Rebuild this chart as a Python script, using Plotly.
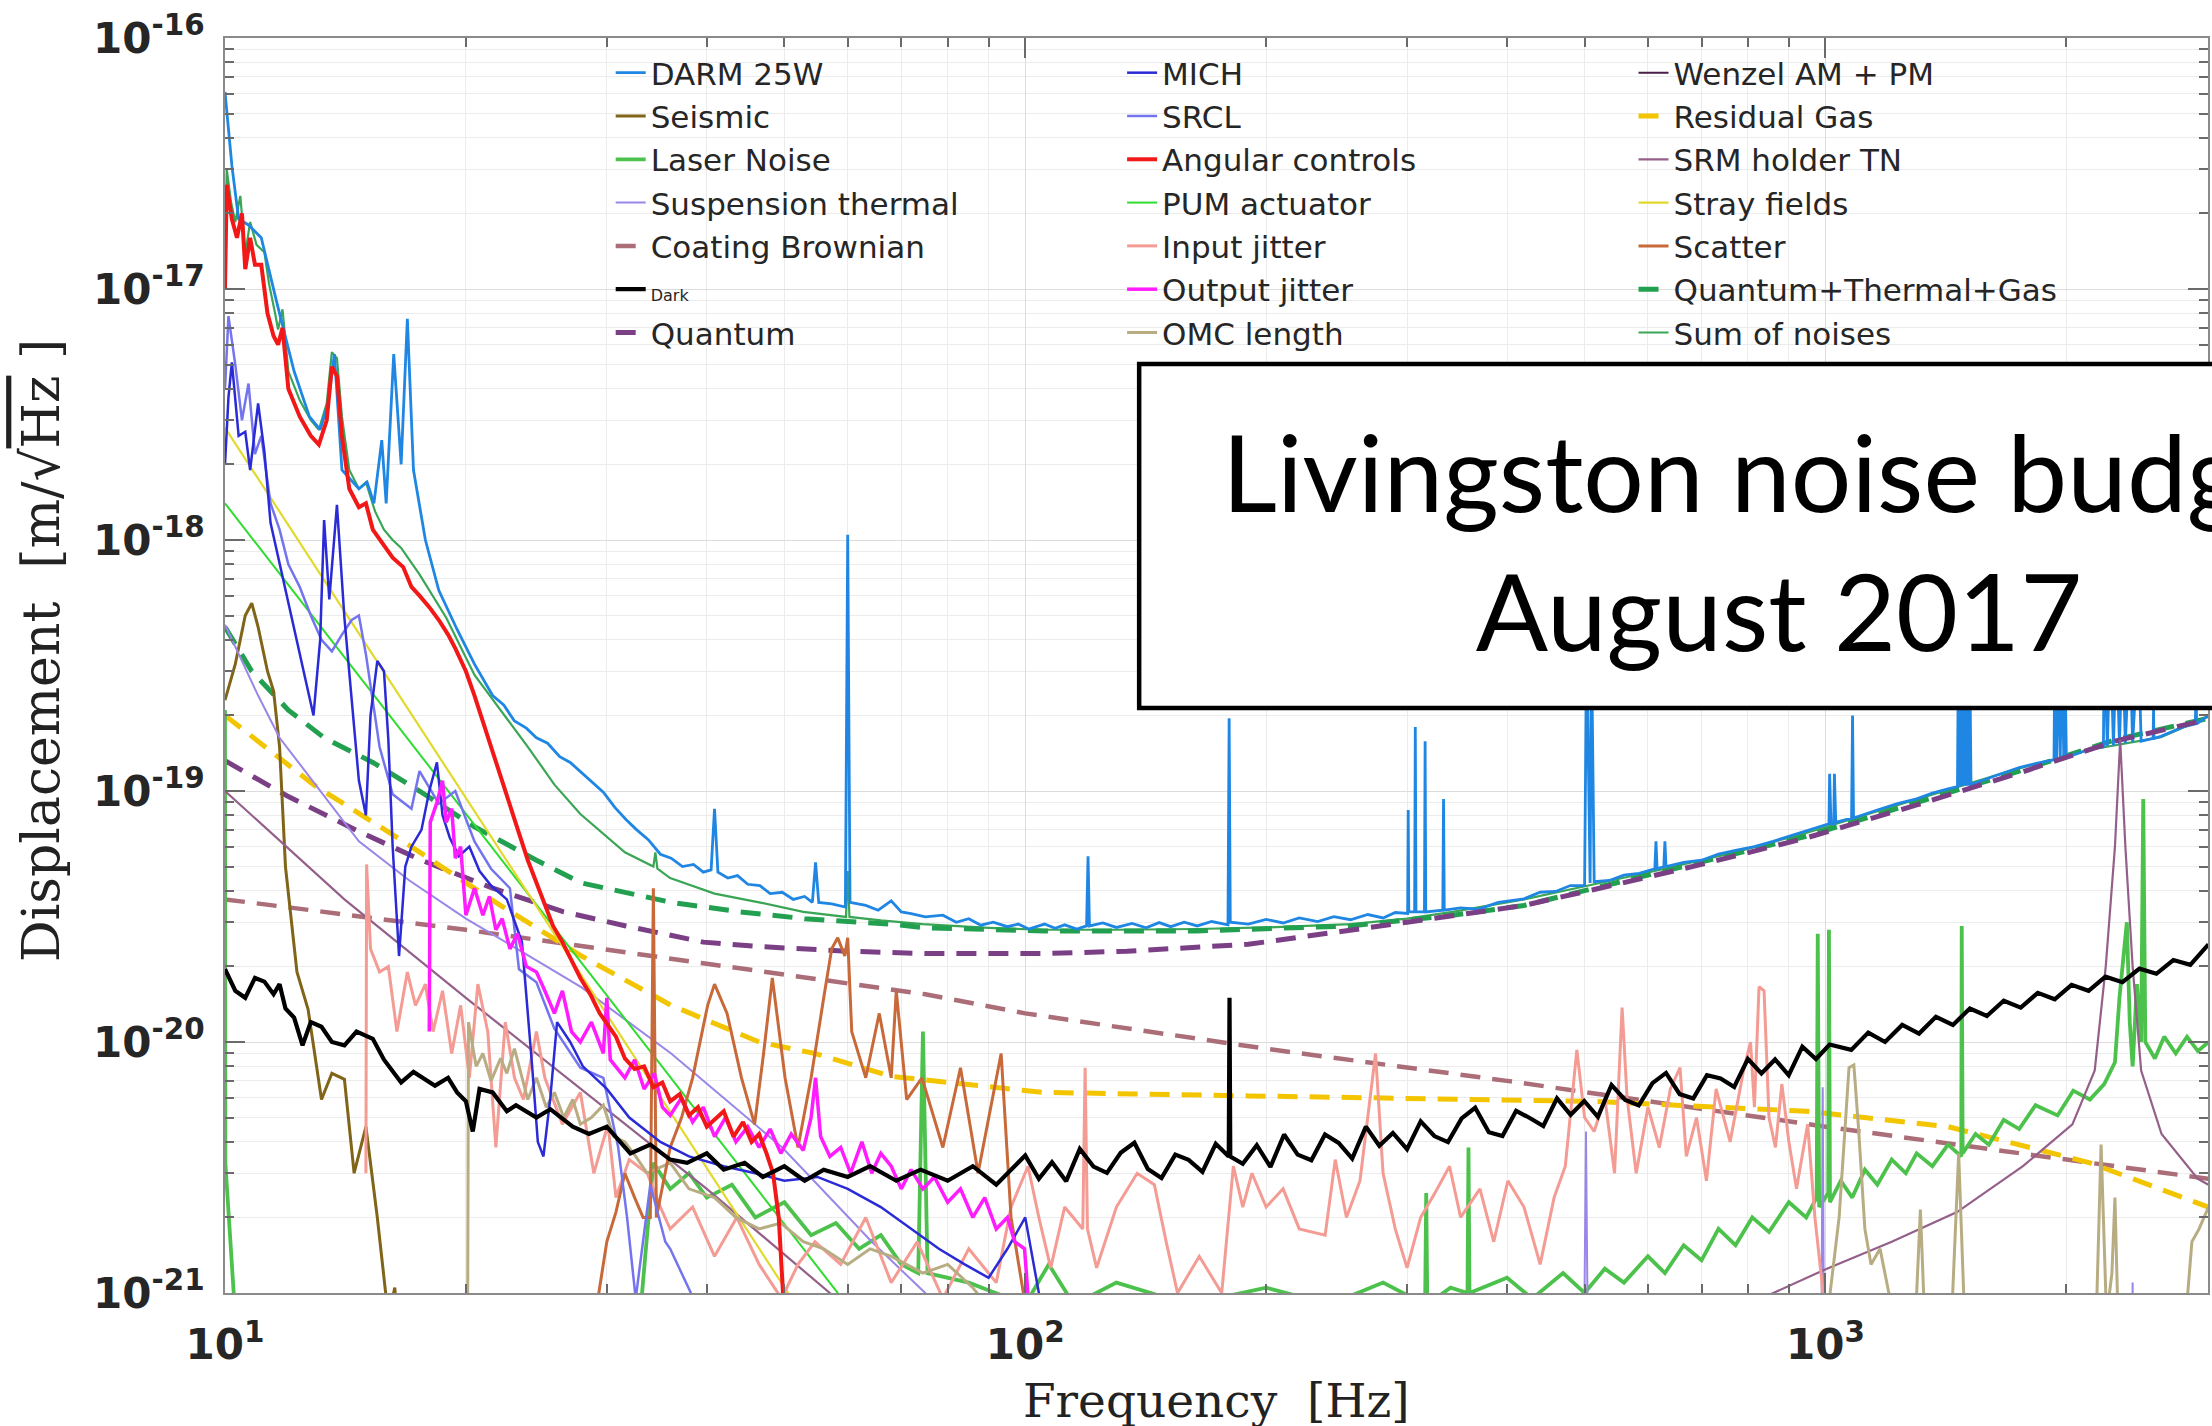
import plotly.graph_objects as go

# ---------------- amplitude spectral densities (Hz, m/sqrt(Hz)) ----------------
DARM_25W = [(10.0, 6.1e-17), (10.2, 3.1e-17), (10.4, 1.9e-17), (10.7, 1.8e-17), (11.1, 1.6e-17), (11.6, 8.9e-18),
            (12.2, 4.7e-18), (12.75, 3.1e-18), (13.15, 2.75e-18), (13.45, 3.5e-18), (13.7, 5.5e-18), (14.0, 1.9e-18),
            (14.7, 1.6e-18), (15.05, 1.7e-18), (15.35, 1.4e-18), (15.7, 2.5e-18), (15.9, 1.4e-18), (16.25, 5.5e-18),
            (16.6, 2.0e-18), (16.9, 7.6e-18), (17.2, 1.9e-18), (17.8, 1.0e-18), (18.5, 6.3e-19), (19.5, 4.4e-19),
            (20.5, 3.2e-19), (21.6, 2.4e-19), (22.3, 2.2e-19), (23.0, 1.9e-19), (23.8, 1.78e-19), (24.5, 1.63e-19),
            (25.3, 1.55e-19), (26.2, 1.37e-19), (27.0, 1.3e-19), (27.9, 1.18e-19), (28.8, 1.08e-19), (29.7, 9.9e-20),
            (30.7, 8.6e-20), (31.7, 7.7e-20), (32.7, 7.0e-20), (33.8, 6.4e-20), (35.0, 5.6e-20), (36.1, 5.4e-20),
            (37.3, 5.0e-20), (38.5, 5.1e-20), (39.6, 4.75e-20), (40.5, 4.85e-20), (40.9, 8.5e-20), (41.3, 4.75e-20),
            (42.5, 4.5e-20), (43.7, 4.6e-20), (45.0, 4.25e-20), (46.6, 4.2e-20), (48.0, 3.9e-20), (49.7, 3.95e-20),
            (51.3, 3.7e-20), (53.0, 3.8e-20), (54.2, 3.6e-20), (54.7, 5.2e-20), (55.2, 3.6e-20), (57.3, 3.55e-20),
            (59.6, 3.45e-20), (60.0, 1.05e-18), (60.4, 3.6e-20), (63.2, 3.5e-20), (65.5, 3.35e-20), (68.0, 3.65e-20),
            (70.0, 3.3e-20), (72.0, 3.25e-20), (75.0, 3.15e-20), (78.9, 3.2e-20), (82.0, 3.0e-20), (85.0, 3.1e-20),
            (88.0, 2.92e-20), (91.2, 3.0e-20), (95.0, 2.88e-20), (98.0, 2.95e-20), (101.0, 2.82e-20),
            (105.7, 2.95e-20), (109.0, 2.84e-20), (112.0, 2.93e-20), (116.0, 2.82e-20), (119.3, 2.9e-20),
            (119.8, 5.5e-20), (120.3, 2.9e-20), (125.0, 2.98e-20), (130.0, 2.86e-20), (136.0, 2.97e-20),
            (141.6, 2.85e-20), (147.0, 2.99e-20), (152.0, 2.88e-20), (158.0, 3.0e-20), (164.0, 2.9e-20),
            (171.0, 3.02e-20), (179.2, 2.93e-20), (179.8, 1.95e-19), (180.4, 3.0e-20), (190.0, 2.95e-20),
            (200.0, 3.08e-20), (210.0, 2.98e-20), (220.0, 3.12e-20), (232.0, 3.02e-20), (243.0, 3.16e-20),
            (255.0, 3.07e-20), (268.0, 3.22e-20), (280.0, 3.12e-20), (290.0, 3.28e-20), (300.5, 3.25e-20),
            (301.0, 8.4e-20), (301.5, 3.3e-20), (306.6, 3.3e-20), (307.2, 1.8e-19), (307.8, 3.3e-20),
            (315.4, 3.3e-20), (316.0, 1.58e-19), (316.6, 3.3e-20), (332.5, 3.35e-20), (333.2, 9.3e-20),
            (333.9, 3.35e-20), (350.0, 3.42e-20), (368.0, 3.38e-20), (390.0, 3.6e-20), (420.0, 3.72e-20),
            (440.0, 3.95e-20), (460.0, 3.98e-20), (480.0, 4.2e-20), (500.0, 4.2e-20), (503.0, 4e-19),
            (508.0, 4.3e-20), (510.0, 4e-19), (514.0, 4.35e-20), (537.0, 4.4e-20), (560.0, 4.62e-20),
            (585.0, 4.7e-20), (612.0, 4.9e-20), (614.0, 6.3e-20), (616.0, 4.9e-20), (628.0, 5.0e-20),
            (630.0, 6.3e-20), (632.0, 5.0e-20), (665.0, 5.2e-20), (700.0, 5.3e-20), (735.0, 5.6e-20),
            (772.0, 5.8e-20), (815.0, 6.0e-20), (860.0, 6.3e-20), (900.0, 6.6e-20), (946.0, 6.9e-20),
            (1010.0, 7.4e-20), (1012.0, 1.17e-19), (1016.0, 7.4e-20), (1024.0, 7.4e-20), (1026.0, 1.17e-19),
            (1030.0, 7.5e-20), (1078.0, 7.8e-20), (1081.0, 2.0e-19), (1084.0, 7.8e-20), (1161.0, 8.4e-20),
            (1230.0, 8.9e-20), (1300.0, 9.3e-20), (1360.0, 9.8e-20), (1423.0, 1.02e-19), (1462.0, 1.04e-19),
            (1466.0, 4e-19), (1472.0, 1.04e-19), (1478.0, 4e-19), (1484.0, 1.05e-19), (1490.0, 4e-19),
            (1496.0, 1.05e-19), (1502.0, 4e-19), (1508.0, 1.05e-19), (1514.0, 4e-19), (1520.0, 1.06e-19),
            (1630.0, 1.15e-19), (1746.0, 1.24e-19), (1840.0, 1.29e-19), (1930.0, 1.33e-19), (1935.0, 4e-19),
            (1945.0, 1.34e-19), (1955.0, 4e-19), (1965.0, 1.34e-19), (1975.0, 4e-19), (1985.0, 1.35e-19),
            (1990.0, 4e-19), (2000.0, 1.36e-19), (2140.0, 1.47e-19), (2225.0, 1.5e-19), (2230.0, 4e-19),
            (2250.0, 1.51e-19), (2270.0, 4e-19), (2290.0, 1.52e-19), (2310.0, 4e-19), (2330.0, 1.53e-19),
            (2350.0, 4e-19), (2370.0, 1.55e-19), (2400.0, 4e-19), (2420.0, 1.56e-19), (2460.0, 4e-19),
            (2480.0, 1.58e-19), (2567.0, 1.62e-19), (2570.0, 2.1e-19), (2573.0, 1.62e-19), (2625.0, 1.65e-19),
            (2800.0, 1.8e-19), (2898.0, 1.85e-19), (2904.0, 2.4e-19), (2910.0, 1.85e-19), (3010.0, 2.0e-19)]

SEISMIC = [(10.0, 2.3e-19), (10.3, 3.2e-19), (10.6, 5.0e-19), (10.8, 5.6e-19), (11.0, 4.5e-19), (11.3, 3.0e-19),
           (11.5, 2.5e-19), (11.7, 1.5e-19), (11.9, 5.0e-20), (12.3, 1.9e-20), (12.7, 1.35e-20), (13.2, 5.9e-21),
           (13.6, 7.5e-21), (14.1, 7.1e-21), (14.5, 3.0e-21), (15.0, 4.6e-21), (15.5, 2.0e-21), (16.0, 8e-22),
           (16.3, 1.05e-21), (16.6, 5e-22)]

LASER_NOISE = [(10.0, 2.1e-19), (10.01, 3.3e-21), (10.3, 8e-22), (None, None),
               (33.0, 8e-22), (34.3, 3.3e-21), (36.0, 2.6e-21), (38.0, 3.0e-21), (40.0, 2.4e-21), (43.0, 2.7e-21),
               (46.0, 2.0e-21), (50.0, 2.3e-21), (54.0, 1.7e-21), (58.0, 1.9e-21), (62.0, 1.5e-21), (66.0, 1.7e-21),
               (70.0, 1.3e-21), (73.5, 1.2e-21), (74.5, 1.1e-20), (75.5, 1.2e-21), (85.0, 1.1e-21), (100.0, 9e-22),
               (107.0, 1.3e-21), (115.0, 9e-22), (130.0, 1.1e-21), (160.0, 9e-22), (200.0, 1.05e-21), (240.0, 9e-22),
               (280.0, 1.1e-21), (316.0, 9e-22), (317.0, 2.5e-21), (318.0, 9e-22), (340.0, 1.05e-21),
               (357.0, 1.0e-21), (358.0, 3.8e-21), (359.0, 1.0e-21), (400.0, 1.15e-21), (430.0, 9.5e-22),
               (470.0, 1.2e-21), (500.0, 1.0e-21), (530.0, 1.25e-21), (560.0, 1.1e-21), (600.0, 1.4e-21),
               (630.0, 1.2e-21), (665.0, 1.55e-21), (700.0, 1.35e-21), (735.0, 1.8e-21), (772.0, 1.55e-21),
               (810.0, 2.0e-21), (850.0, 1.75e-21), (900.0, 2.3e-21), (946.0, 2.0e-21), (975.0, 2.4e-21),
               (978.0, 2.7e-20), (982.0, 2.2e-21), (1008.0, 2.5e-21), (1010.0, 2.8e-20), (1013.0, 2.3e-21),
               (1045.0, 2.8e-21), (1080.0, 2.4e-21), (1120.0, 3.1e-21), (1161.0, 2.7e-21), (1210.0, 3.4e-21),
               (1260.0, 3.0e-21), (1300.0, 3.6e-21), (1360.0, 3.2e-21), (1423.0, 3.9e-21), (1478.0, 3.5e-21),
               (1480.0, 2.9e-20), (1484.0, 3.6e-21), (1540.0, 4.3e-21), (1600.0, 3.9e-21), (1670.0, 4.9e-21),
               (1746.0, 4.5e-21), (1830.0, 5.6e-21), (1950.0, 5.1e-21), (2040.0, 6.4e-21), (2140.0, 5.9e-21),
               (2230.0, 6.8e-21), (2300.0, 8.3e-21), (2330.0, 1.5e-20), (2350.0, 2.0e-20), (2380.0, 3.0e-20),
               (2400.0, 1.2e-20), (2420.0, 8.0e-21), (2450.0, 1.7e-20), (2480.0, 1.0e-20), (2495.0, 9.3e-20),
               (2510.0, 1.0e-20), (2580.0, 8.6e-21), (2650.0, 1.05e-20), (2740.0, 9.0e-21), (2830.0, 1.05e-20),
               (2920.0, 9.2e-21), (3010.0, 1.0e-20)]

SUSPENSION_THERMAL = [(10.0, 4.6e-19), (11.0, 2.4e-19), (11.7, 1.63e-19), (13.0, 1.05e-19), (14.7, 6.3e-20),
                      (17.0, 4.4e-20), (20.0, 3.1e-20), (24.0, 2.2e-20), (27.9, 1.65e-20), (36.1, 9.0e-21),
                      (49.7, 3.8e-21), (64.3, 1.6e-21), (75.0, 1.0e-21), (85.0, 7e-22), (None, None),
                      (499.0, 5e-22), (502.0, 4.4e-21), (505.0, 5e-22), (None, None),
                      (988.0, 5e-22), (992.0, 6.6e-21), (996.0, 5e-22), (None, None),
                      (2416.0, 5e-22), (2420.0, 1.1e-21), (2424.0, 5e-22)]

COATING_BROWNIAN = [(10.0, 3.7e-20), (20.0, 2.8e-20), (40.0, 2.05e-20), (75.0, 1.55e-20), (100.0, 1.3e-20),
                    (200.0, 9.4e-21), (400.0, 7.0e-21), (1000.0, 4.6e-21), (2000.0, 3.4e-21), (3010.0, 2.85e-21)]

DARK = [(10.0, 1.95e-20), (10.3, 1.6e-20), (10.6, 1.5e-20), (10.9, 1.8e-20), (11.2, 1.74e-20), (11.5, 1.55e-20),
        (11.7, 1.7e-20), (11.9, 1.36e-20), (12.2, 1.25e-20), (12.5, 9.7e-21), (12.8, 1.2e-20), (13.2, 1.15e-20),
        (13.6, 1.0e-20), (14.1, 9.7e-21), (14.6, 1.1e-20), (15.3, 1.03e-20), (15.8, 8.5e-21), (16.6, 6.9e-21),
        (17.2, 7.6e-21), (18.3, 6.7e-21), (19.0, 7.2e-21), (19.5, 6.3e-21), (20.0, 5.8e-21), (20.4, 4.4e-21),
        (20.8, 6.5e-21), (21.6, 6.3e-21), (22.5, 5.3e-21), (23.1, 5.6e-21), (24.5, 5.0e-21), (25.5, 5.4e-21),
        (27.2, 4.6e-21), (28.5, 4.3e-21), (30.0, 4.6e-21), (32.1, 3.6e-21), (34.0, 3.9e-21), (36.0, 3.4e-21),
        (37.8, 3.3e-21), (40.0, 3.6e-21), (42.0, 3.1e-21), (44.6, 3.3e-21), (47.0, 2.9e-21), (50.0, 3.2e-21),
        (53.0, 2.8e-21), (56.0, 3.1e-21), (60.0, 2.9e-21), (64.0, 3.2e-21), (69.0, 2.8e-21), (74.0, 3.1e-21),
        (80.0, 2.8e-21), (86.0, 3.2e-21), (92.0, 2.7e-21), (100.0, 3.53e-21), (104.0, 2.85e-21), (108.0, 3.32e-21),
        (112.5, 2.79e-21), (117.0, 3.75e-21), (121.7, 3.19e-21), (126.5, 3.01e-21), (131.6, 3.62e-21),
        (136.9, 3.97e-21), (142.3, 3.12e-21), (148.0, 2.87e-21), (154.0, 3.56e-21), (160.0, 3.39e-21),
        (166.5, 3.04e-21), (173.0, 3.93e-21), (179.6, 3.5e-21), (180.0, 1.5e-20), (180.4, 3.5e-21),
        (187.0, 3.27e-21), (194.7, 3.88e-21), (202.5, 3.18e-21), (210.6, 4.28e-21), (219.0, 3.56e-21),
        (227.8, 3.38e-21), (236.9, 4.28e-21), (246.4, 3.96e-21), (256.2, 3.43e-21), (266.5, 4.6e-21),
        (277.0, 3.86e-21), (288.0, 4.34e-21), (300.0, 3.74e-21), (312.0, 4.83e-21), (324.5, 4.22e-21),
        (337.5, 3.99e-21), (351.0, 4.96e-21), (365.0, 5.47e-21), (379.6, 4.37e-21), (394.8, 4.22e-21),
        (410.6, 5.32e-21), (427.0, 4.98e-21), (444.0, 4.63e-21), (461.8, 5.96e-21), (480.3, 5.13e-21),
        (499.5, 5.82e-21), (519.5, 5.03e-21), (540.3, 6.74e-21), (562.0, 5.88e-21), (584.4, 5.59e-21),
        (607.8, 6.86e-21), (632.0, 7.53e-21), (657.3, 6.2e-21), (683.6, 5.96e-21), (711.0, 7.37e-21),
        (739.4, 7.15e-21), (769.0, 6.62e-21), (799.8, 8.57e-21), (831.7, 7.49e-21), (865.0, 8.52e-21),
        (899.6, 7.38e-21), (935.6, 9.58e-21), (973.0, 8.56e-21), (1012.0, 9.77e-21), (1077.0, 9.3e-21),
        (1131.0, 1.09e-20), (1187.0, 1.0e-20), (1247.0, 1.17e-20), (1309.0, 1.08e-20), (1374.0, 1.26e-20),
        (1443.0, 1.17e-20), (1515.0, 1.36e-20), (1591.0, 1.27e-20), (1670.0, 1.46e-20), (1754.0, 1.37e-20),
        (1842.0, 1.57e-20), (1934.0, 1.48e-20), (2030.0, 1.69e-20), (2132.0, 1.6e-20), (2238.0, 1.82e-20),
        (2350.0, 1.73e-20), (2468.0, 1.96e-20), (2591.0, 1.87e-20), (2721.0, 2.12e-20), (2857.0, 2.03e-20),
        (3010.0, 2.45e-20)]

QUANTUM = [(10.0, 1.32e-19), (12.0, 9.5e-20), (14.7, 6.9e-20), (17.6, 5.3e-20), (21.6, 4.1e-20), (26.5, 3.3e-20),
           (31.7, 2.9e-20), (39.6, 2.5e-20), (46.5, 2.4e-20), (60.0, 2.3e-20), (75.0, 2.25e-20), (105.0, 2.25e-20),
           (134.0, 2.3e-20), (190.0, 2.45e-20), (300.0, 3.0e-20), (420.0, 3.5e-20), (514.0, 4.05e-20),
           (700.0, 5.1e-20), (946.0, 6.5e-20), (1300.0, 8.8e-20), (1746.0, 1.18e-19), (2300.0, 1.58e-19),
           (3010.0, 1.93e-19)]

MICH = [(10.0, 2.0e-18), (10.1, 3.7e-18), (10.2, 5.1e-18), (10.4, 2.6e-18), (10.6, 2.7e-18), (10.75, 1.9e-18),
        (11.0, 3.5e-18), (11.2, 2.25e-18), (11.4, 1.17e-18), (11.8, 7.2e-19), (12.2, 4.5e-19), (12.6, 2.8e-19),
        (12.9, 2.0e-19), (13.15, 4.0e-19), (13.3, 1.2e-18), (13.5, 5.8e-19), (13.8, 1.38e-18), (14.1, 4.9e-19),
        (14.4, 2.3e-19), (14.7, 1.1e-19), (15.0, 8e-20), (15.2, 2.0e-19), (15.5, 3.3e-19), (15.8, 3.0e-19),
        (16.0, 1.6e-19), (16.2, 6e-20), (16.5, 2.2e-20), (16.8, 5e-20), (17.1, 6e-20), (17.6, 7e-20),
        (18.0, 1.0e-19), (18.4, 1.3e-19), (18.7, 8e-20), (19.1, 6.5e-20), (19.6, 5.5e-20), (20.2, 6e-20),
        (20.8, 4.8e-20), (21.5, 4.2e-20), (22.5, 3.7e-20), (23.5, 2.5e-20), (24.2, 8e-21), (24.6, 4e-21),
        (25.0, 3.5e-21), (25.5, 6e-21), (26.0, 1.2e-20), (27.0, 1.0e-20), (28.0, 8e-21), (30.0, 6.5e-21),
        (32.0, 5e-21), (35.0, 4.0e-21), (38.0, 3.5e-21), (42.0, 3.2e-21), (46.0, 3.0e-21), (50.0, 2.8e-21),
        (55.0, 2.9e-21), (60.0, 2.6e-21), (66.0, 2.2e-21), (72.0, 1.8e-21), (78.0, 1.5e-21), (84.0, 1.3e-21),
        (90.0, 1.15e-21), (95.0, 1.5e-21), (100.0, 2.0e-21), (104.0, 1.0e-21), (106.0, 7e-22)]

SRCL = [(10.0, 4.0e-18), (10.1, 7.8e-18), (10.3, 5.0e-18), (10.5, 3.0e-18), (10.7, 4.2e-18), (10.9, 2.2e-18),
        (11.1, 2.6e-18), (11.4, 1.4e-18), (11.7, 1.1e-18), (12.0, 8e-19), (12.4, 6.5e-19), (12.8, 5.0e-19),
        (13.2, 4.0e-19), (13.6, 3.6e-19), (14.0, 4.2e-19), (14.4, 4.8e-19), (14.7, 5.0e-19), (15.0, 3.5e-19),
        (15.6, 1.5e-19), (16.2, 9.7e-20), (17.1, 8.5e-20), (17.5, 1.2e-19), (18.5, 8.9e-20), (19.4, 1.0e-19),
        (20.5, 6.3e-20), (21.5, 4.9e-20), (22.7, 4.1e-20), (23.3, 1.95e-20), (24.5, 1.73e-20), (25.8, 1.13e-20),
        (27.8, 7.9e-21), (29.7, 7.2e-21), (31.0, 3.8e-21), (31.8, 2.0e-21), (32.6, 9.5e-22), (34.0, 2.7e-21),
        (35.5, 1.6e-21), (36.0, 1.5e-21), (38.5, 9.5e-22)]

ANGULAR_CONTROLS = [(10.0, 1.0e-17), (10.05, 2.6e-17), (10.2, 1.9e-17), (10.35, 1.6e-17), (10.5, 2.0e-17),
                    (10.6, 1.2e-17), (10.75, 1.6e-17), (10.9, 1.25e-17), (11.1, 1.25e-17), (11.3, 8.0e-18),
                    (11.5, 6.5e-18), (11.65, 6.0e-18), (11.8, 7.0e-18), (12.0, 4.0e-18), (12.4, 3.1e-18),
                    (12.8, 2.6e-18), (13.1, 2.4e-18), (13.4, 3.0e-18), (13.6, 4.9e-18), (13.8, 4.5e-18),
                    (14.0, 2.6e-18), (14.3, 1.6e-18), (14.7, 1.35e-18), (15.0, 1.4e-18), (15.3, 1.1e-18),
                    (15.8, 9.5e-19), (16.2, 8.5e-19), (16.7, 7.8e-19), (17.1, 6.5e-19), (17.5, 6.0e-19),
                    (18.0, 5.4e-19), (18.5, 4.8e-19), (19.0, 4.2e-19), (19.4, 3.7e-19), (20.0, 3.0e-19),
                    (20.5, 2.4e-19), (21.0, 1.9e-19), (21.5, 1.5e-19), (22.1, 1.15e-19), (22.7, 9.0e-20),
                    (23.3, 6.8e-20), (23.9, 5.3e-20), (24.5, 4.3e-20), (25.1, 3.5e-20), (25.7, 2.9e-20),
                    (26.4, 2.5e-20), (27.1, 2.1e-20), (27.8, 1.8e-20), (28.6, 1.55e-20), (29.4, 1.3e-20),
                    (30.8, 1.05e-20), (31.6, 8.6e-21), (32.5, 7.8e-21), (33.4, 8.0e-21), (34.3, 6.6e-21),
                    (35.2, 6.9e-21), (36.0, 5.8e-21), (37.0, 6.2e-21), (38.0, 5.1e-21), (39.0, 5.5e-21),
                    (40.0, 4.6e-21), (40.9, 4.9e-21), (42.0, 5.3e-21), (43.2, 4.2e-21), (44.4, 4.8e-21),
                    (45.5, 4.0e-21), (46.5, 4.3e-21), (47.5, 3.6e-21), (48.4, 3.0e-21), (49.2, 2.0e-21),
                    (49.9, 9e-22)]

PUM_ACTUATOR = [(10.0, 1.4e-18), (65.0, 6.4e-22)]

INPUT_JITTER = [(15.0, 3.0e-21), (15.03, 5.1e-20), (15.2, 2.35e-20), (15.6, 1.9e-20), (16.0, 2.0e-20), (16.4, 1.1e-20),
                (16.9, 1.9e-20), (17.3, 1.4e-20), (17.8, 1.7e-20), (18.2, 1.1e-20), (18.7, 1.6e-20), (19.2, 9e-21),
                (19.7, 1.4e-20), (20.2, 7.2e-21), (20.7, 1.7e-20), (21.3, 1.1e-20), (21.8, 3.8e-21), (22.4, 1.2e-20),
                (23.0, 7.2e-21), (23.6, 5.9e-21), (24.5, 1.1e-20), (25.1, 7.2e-21), (26.4, 4.7e-21), (27.8, 6.3e-21),
                (28.9, 3.0e-21), (30.1, 4.7e-21), (30.8, 2.4e-21), (32.0, 3.4e-21), (33.7, 3.0e-21), (35.0, 2.2e-21),
                (36.0, 1.8e-21), (38.4, 2.2e-21), (40.9, 1.4e-21), (43.6, 2.0e-21), (46.5, 1.3e-21), (49.6, 9.5e-22),
                (52.0, 1.3e-21), (54.6, 1.6e-21), (58.8, 1.3e-21), (63.2, 2.0e-21), (68.0, 1.1e-21), (73.3, 1.6e-21),
                (78.9, 9.5e-22), (85.0, 1.5e-21), (92.0, 1.1e-21), (96.0, 2.2e-21), (100.8, 3.2e-21), (104.0, 2.0e-21),
                (107.6, 1.26e-21), (112.0, 2.2e-21), (118.0, 1.8e-21), (118.8, 7.9e-21), (119.6, 1.8e-21),
                (122.8, 1.26e-21), (130.0, 2.2e-21), (138.0, 3.0e-21), (145.0, 2.7e-21), (150.0, 1.6e-21),
                (155.0, 1.0e-21), (165.0, 1.4e-21), (176.0, 1.0e-21), (182.0, 3.2e-21), (187.0, 2.2e-21),
                (192.0, 3.0e-21), (200.0, 2.2e-21), (210.0, 2.6e-21), (220.0, 1.8e-21), (237.0, 1.7e-21),
                (244.0, 3.4e-21), (252.0, 2.0e-21), (262.0, 2.8e-21), (274.0, 9.0e-21), (280.0, 3.0e-21),
                (290.0, 1.8e-21), (300.0, 1.26e-21), (312.0, 2.0e-21), (325.0, 2.5e-21), (339.0, 3.2e-21),
                (350.0, 2.0e-21), (370.0, 2.6e-21), (385.0, 1.6e-21), (401.0, 2.8e-21), (420.0, 2.2e-21),
                (440.0, 1.3e-21), (458.0, 2.4e-21), (473.0, 3.2e-21), (489.0, 9.3e-21), (500.0, 5.0e-21),
                (514.0, 4.4e-21), (530.0, 6.0e-21), (545.0, 3.0e-21), (554.0, 1.05e-20), (557.0, 1.37e-20),
                (565.0, 6.0e-21), (580.0, 3.0e-21), (600.0, 5.5e-21), (620.0, 3.8e-21), (640.0, 6.5e-21),
                (658.0, 7.9e-21), (670.0, 3.5e-21), (690.0, 5.0e-21), (710.0, 2.8e-21), (730.0, 6.5e-21),
                (760.0, 4.0e-21), (790.0, 7.7e-21), (806.0, 1.0e-20), (815.0, 5.5e-21), (826.0, 1.66e-20),
                (838.0, 1.6e-20), (850.0, 5.0e-21), (866.0, 3.8e-21), (882.0, 6.8e-21), (900.0, 4.0e-21),
                (920.0, 2.6e-21), (950.0, 4.7e-21), (970.0, 2.0e-21), (990.0, 1.1e-21), (1000.0, 7e-22)]

OUTPUT_JITTER = [(18.0, 1.1e-20), (18.05, 7.5e-20), (18.4, 9e-20), (18.7, 1.1e-19), (18.9, 7.5e-20), (19.2, 8.5e-20),
                 (19.4, 5.4e-20), (19.7, 6.0e-20), (20.0, 3.2e-20), (20.5, 4.1e-20), (21.0, 3.2e-20), (21.4, 3.8e-20),
                 (21.8, 2.8e-20), (22.2, 3.1e-20), (22.7, 2.35e-20), (23.2, 2.7e-20), (23.8, 2.0e-20), (24.5, 1.9e-20),
                 (25.1, 1.6e-20), (25.8, 1.3e-20), (26.4, 1.6e-20), (27.1, 1.1e-20), (27.8, 1.0e-20), (28.7, 1.2e-20),
                 (29.7, 9e-21), (30.0, 1.5e-20), (30.3, 8.5e-21), (31.6, 7.2e-21), (32.5, 8.5e-21), (33.4, 6.5e-21),
                 (34.4, 7.5e-21), (35.2, 5.5e-21), (36.0, 5.1e-21), (37.2, 6.0e-21), (38.4, 4.8e-21), (39.6, 5.5e-21),
                 (40.9, 4.2e-21), (42.2, 5.0e-21), (43.5, 4.0e-21), (45.0, 4.6e-21), (46.5, 3.8e-21), (48.0, 4.5e-21),
                 (49.5, 3.6e-21), (51.0, 4.3e-21), (52.8, 3.7e-21), (54.0, 5.0e-21), (54.7, 7.2e-21), (55.5, 4.2e-21),
                 (57.0, 3.5e-21), (58.8, 3.8e-21), (60.5, 3.0e-21), (62.5, 4.0e-21), (64.3, 3.0e-21), (66.0, 3.6e-21),
                 (68.0, 3.2e-21), (70.0, 2.6e-21), (72.0, 3.1e-21), (74.5, 2.6e-21), (77.0, 2.9e-21), (80.0, 2.3e-21),
                 (83.0, 2.6e-21), (86.0, 2.0e-21), (89.0, 2.4e-21), (92.0, 1.8e-21), (95.0, 2.0e-21), (97.0, 1.6e-21),
                 (99.8, 1.5e-21), (101.0, 9e-22)]

OMC_LENGTH = [(20.1, 8e-22), (20.15, 1.2e-20), (20.6, 8.0e-21), (21.0, 9e-21), (21.5, 7.0e-21), (22.1, 8.6e-21),
              (22.5, 7.5e-21), (23.0, 9.4e-21), (23.9, 5.9e-21), (24.5, 7.2e-21), (25.2, 5.5e-21), (25.8, 6.3e-21),
              (26.5, 5.0e-21), (27.2, 5.9e-21), (27.8, 4.7e-21), (28.7, 5.0e-21), (29.7, 5.6e-21), (30.6, 4.2e-21),
              (31.6, 4.0e-21), (32.6, 3.5e-21), (33.7, 3.0e-21), (36.0, 3.3e-21), (38.0, 2.6e-21), (40.9, 2.4e-21),
              (43.5, 2.0e-21), (46.5, 1.8e-21), (49.5, 1.9e-21), (52.8, 1.6e-21), (56.0, 1.5e-21), (60.0, 1.3e-21),
              (64.0, 1.5e-21), (68.0, 1.4e-21), (74.5, 1.2e-21), (80.0, 1.3e-21), (86.0, 1.05e-21), (92.0, 8e-22),
              (None, None),
              (1000.0, 7e-22), (1040.0, 2.0e-21), (1060.0, 5e-21), (1070.0, 7.9e-21), (1085.0, 8.1e-21),
              (1100.0, 4.5e-21), (1120.0, 1.8e-21), (1140.0, 1.3e-21), (1170.0, 1.5e-21), (1200.0, 1.0e-21),
              (1250.0, 8e-22), (1300.0, 1.0e-21), (1314.0, 2.15e-21), (1328.0, 9e-22), (1440.0, 9e-22),
              (1467.0, 3.6e-21), (1490.0, 9e-22), (2180.0, 8e-22), (2210.0, 3.9e-21), (2245.0, 8e-22),
              (2280.0, 1.2e-21), (2300.0, 2.4e-21), (2320.0, 8e-22), (2820.0, 8e-22), (2870.0, 1.6e-21),
              (2930.0, 1.8e-21), (3010.0, 2.2e-21)]

# oscillator noise stays under the plotted floor across the band
WENZEL_AM_PM = [(10.0, 6e-22), (100.0, 5e-22), (1000.0, 5e-22), (3010.0, 6e-22)]

RESIDUAL_GAS = [(10.0, 2.0e-19), (12.9, 1.06e-19), (16.7, 6.3e-20), (21.5, 3.7e-20), (27.9, 2.2e-20), (36.1, 1.4e-20),
                (46.5, 1.0e-20), (54.6, 9.0e-21), (68.0, 7.3e-21), (105.0, 6.3e-21), (190.0, 6.1e-21), (395.0, 5.9e-21),
                (514.0, 5.8e-21), (946.0, 5.3e-21), (1423.0, 4.6e-21), (2140.0, 3.3e-21), (3010.0, 2.2e-21)]

SRM_HOLDER_TN = [(10.0, 1.0e-19), (14.1, 3.7e-20), (20.0, 1.5e-20), (30.0, 5.4e-21), (40.0, 2.6e-21), (57.0, 1.0e-21),
                 (65.0, 7e-22), (None, None),
                 (800.0, 9e-22), (1004.0, 1.25e-21), (1210.0, 1.6e-21), (1460.0, 2.1e-21), (1765.0, 3.2e-21),
                 (2035.0, 4.7e-21), (2170.0, 7.7e-21), (2240.0, 2.0e-20), (2300.0, 6e-20), (2335.0, 1.6e-19),
                 (2370.0, 6e-20), (2420.0, 2.0e-20), (2480.0, 7.7e-21), (2630.0, 4.3e-21), (2920.0, 2.85e-21),
                 (3010.0, 2.7e-21)]

STRAY_FIELDS = [(10.0, 2.8e-18), (52.0, 8.7e-22)]

SCATTER = [(29.0, 8e-22), (30.0, 1.6e-21), (30.8, 2.1e-21), (31.6, 3.0e-21), (32.5, 2.4e-21), (33.3, 2.0e-21),
           (34.0, 2.0e-21), (34.3, 4.1e-20), (34.6, 2.0e-21), (36.0, 3.8e-21), (37.2, 5.0e-21), (38.4, 7.2e-21),
           (40.1, 1.4e-20), (40.9, 1.7e-20), (42.4, 1.3e-20), (44.2, 7.2e-21), (45.9, 4.7e-21), (47.1, 9e-21),
           (48.3, 1.8e-20), (50.1, 7.2e-21), (52.0, 3.8e-21), (54.0, 7.2e-21), (56.0, 1.5e-20), (57.3, 2.35e-20),
           (58.3, 2.6e-20), (59.5, 2.2e-20), (60.0, 2.6e-20), (60.7, 1.1e-20), (63.2, 7.2e-21), (65.7, 1.3e-20),
           (68.0, 7.2e-21), (69.0, 1.6e-20), (71.1, 5.9e-21), (74.3, 7.2e-21), (78.9, 3.8e-21), (83.0, 7.9e-21),
           (87.3, 3.0e-21), (93.3, 9e-21), (96.0, 2.0e-21), (100.0, 9e-22)]

QUANTUM_THERMAL_GAS = [(10.0, 4.5e-19), (10.8, 3.0e-19), (12.0, 2.1e-19), (13.3, 1.63e-19), (15.3, 1.3e-19),
                       (17.5, 1.0e-19), (20.5, 7.2e-20), (24.5, 5.3e-20), (27.9, 4.3e-20), (36.1, 3.6e-20),
                       (44.0, 3.3e-20), (53.0, 3.1e-20), (68.0, 2.95e-20), (75.0, 2.85e-20), (105.7, 2.77e-20),
                       (164.0, 2.77e-20), (255.0, 2.9e-20), (342.0, 3.2e-20), (420.0, 3.5e-20), (514.0, 4.1e-20),
                       (700.0, 5.2e-20), (946.0, 6.6e-20), (1300.0, 9.0e-20), (1746.0, 1.2e-19), (2300.0, 1.6e-19),
                       (3010.0, 1.95e-19)]

SUM_OF_NOISES = [(10.0, 1.27e-17), (10.05, 3.0e-17), (10.18, 2.2e-17), (10.3, 1.85e-17), (10.45, 2.35e-17),
                 (10.6, 1.38e-17), (10.75, 1.85e-17), (10.95, 1.5e-17), (11.2, 1.4e-17), (11.35, 1.05e-17),
                 (11.55, 8.0e-18), (11.65, 6.9e-18), (11.8, 8.3e-18), (12.0, 4.7e-18), (12.4, 3.6e-18),
                 (12.8, 3.0e-18), (13.1, 2.75e-18), (13.4, 3.5e-18), (13.6, 5.6e-18), (13.8, 5.3e-18),
                 (14.0, 3.1e-18), (14.3, 1.9e-18), (14.7, 1.6e-18), (15.0, 1.7e-18), (15.4, 1.3e-18),
                 (15.8, 1.1e-18), (16.2, 1.0e-18), (16.6, 9.3e-19), (17.5, 7.3e-19), (18.9, 4.9e-19),
                 (20.5, 2.9e-19), (22.1, 2.1e-19), (23.9, 1.5e-19), (25.8, 1.06e-19), (27.8, 8.1e-20),
                 (31.6, 5.7e-20), (34.3, 5.0e-20), (34.5, 5.7e-20), (34.7, 4.9e-20), (36.0, 4.5e-20),
                 (40.9, 3.9e-20), (46.5, 3.6e-20), (52.8, 3.3e-20), (59.7, 3.15e-20), (60.0, 4.8e-20),
                 (60.3, 3.15e-20), (66.0, 3.05e-20), (74.5, 2.95e-20), (90.0, 2.85e-20), (105.0, 2.8e-20),
                 (130.0, 2.8e-20), (164.0, 2.82e-20), (200.0, 2.86e-20), (255.0, 2.95e-20), (300.0, 3.1e-20),
                 (342.0, 3.3e-20), (420.0, 3.7e-20), (514.0, 4.25e-20), (630.0, 4.9e-20), (772.0, 5.7e-20),
                 (946.0, 6.8e-20), (1161.0, 8.3e-20), (1423.0, 1.01e-19), (1746.0, 1.23e-19), (2140.0, 1.46e-19),
                 (2625.0, 1.64e-19), (3010.0, 1.98e-19)]

# axis ticks
X_TICKS = [10, 100, 1000]
X_TICK_TEXT = ["10<sup>1</sup>", "10<sup>2</sup>", "10<sup>3</sup>"]
Y_TICKS = [1e-21, 1e-20, 1e-19, 1e-18, 1e-17, 1e-16]
Y_TICK_TEXT = ["10<sup>-21</sup>", "10<sup>-20</sup>", "10<sup>-19</sup>",
               "10<sup>-18</sup>", "10<sup>-17</sup>", "10<sup>-16</sup>"]
X_MINOR = [m * d for d in (10, 100, 1000) for m in range(2, 10) if m * d <= 3000]
Y_MINOR = [m * 10.0 ** e for e in range(-21, -16) for m in range(2, 10)]

# (label, data, colour, width, dash, legend column, row)
CURVES = [
    ("Wenzel AM + PM", WENZEL_AM_PM, "#4a1f48", 2, "solid", "legend3", 1),
    ("Sum of noises", SUM_OF_NOISES, "#3aa655", 2.2, "solid", "legend3", 7),
    ("Quantum+Thermal+Gas", QUANTUM_THERMAL_GAS, "#22a050", 5, "20px,12px", "legend3", 6),
    ("DARM 25W", DARM_25W, "#1f87e3", 2.8, "solid", "legend", 1),
    ("Quantum", QUANTUM, "#7b3f86", 5, "20px,12px", "legend", 7),
    ("Coating Brownian", COATING_BROWNIAN, "#ab6d77", 4.5, "20px,12px", "legend", 5),
    ("Residual Gas", RESIDUAL_GAS, "#f2c500", 5, "20px,12px", "legend3", 2),
    ("Seismic", SEISMIC, "#806417", 3, "solid", "legend", 2),
    ("Laser Noise", LASER_NOISE, "#4cc24c", 3.8, "solid", "legend", 3),
    ("Suspension thermal", SUSPENSION_THERMAL, "#9a86e8", 2, "solid", "legend", 4),
    ("SRM holder TN", SRM_HOLDER_TN, "#94608a", 2.2, "solid", "legend3", 3),
    ("PUM actuator", PUM_ACTUATOR, "#2edc2e", 2, "solid", "legend2", 4),
    ("Stray fields", STRAY_FIELDS, "#e2d92c", 2.2, "solid", "legend3", 4),
    ("Input jitter", INPUT_JITTER, "#f49b93", 3, "solid", "legend2", 5),
    ("OMC length", OMC_LENGTH, "#b8ad82", 3, "solid", "legend2", 7),
    ("Scatter", SCATTER, "#c8693a", 3, "solid", "legend3", 5),
    ("SRCL", SRCL, "#7474ee", 2.5, "solid", "legend2", 2),
    ("MICH", MICH, "#2a2ad6", 2.5, "solid", "legend2", 1),
    ("Output jitter", OUTPUT_JITTER, "#ff1cff", 3.5, "solid", "legend2", 6),
    ("Angular controls", ANGULAR_CONTROLS, "#f21818", 4, "solid", "legend2", 3),
    ("<span style='font-size:16px'>Dark</span>", DARK, "#000000", 4.2, "solid", "legend", 6),
]

fig = go.Figure()
for label, data, colour, width, dash, leg, row in CURVES:
    freq = [p[0] for p in data]
    asd = [p[1] for p in data]
    fig.add_trace(go.Scatter(
        x=freq, y=asd, mode="lines", name=label, connectgaps=False,
        line=dict(color=colour, width=width, dash=dash),
        legend=leg, legendrank=row, showlegend=True, hoverinfo="skip",
    ))

axis_font = dict(family="DejaVu Sans", size=42, color="#262626")
common_axis = dict(
    type="log", showline=True, linecolor="#8a8a8a", linewidth=2, mirror="ticks",
    ticks="inside", ticklen=20, tickwidth=1.5, tickcolor="#6a6a6a",
    showgrid=True, gridcolor="#dcdcdc", gridwidth=1.4, zeroline=False,
    tickfont=axis_font, tickmode="array",
)

fig.update_layout(
    width=2212, height=1426,
    margin=dict(l=225, r=2, t=38, b=133),
    paper_bgcolor="white", plot_bgcolor="white",
    xaxis=dict(
        common_axis, range=[1, 3.478],
        tickvals=X_TICKS, ticktext=["<b>%s</b>" % t for t in X_TICK_TEXT],
        ticklabelstandoff=14,
        minor=dict(tickmode="array", tickvals=X_MINOR, ticks="inside", ticklen=9, tickcolor="#6a6a6a",
                   showgrid=True, gridcolor="#ececec", gridwidth=1),
    ),
    yaxis=dict(
        common_axis, range=[-21, -16],
        tickvals=Y_TICKS, ticktext=["<b>%s</b>" % t for t in Y_TICK_TEXT],
        ticklabelstandoff=10,
        minor=dict(tickmode="array", tickvals=Y_MINOR, ticks="inside", ticklen=9, tickcolor="#6a6a6a",
                   showgrid=True, gridcolor="#ececec", gridwidth=1),
    ),
    showlegend=True,
)

# axis titles
fig.add_annotation(xref="paper", yref="paper", x=0.5, y=-0.0860, xanchor="center", yanchor="middle",
                   text="Frequency  [Hz]", showarrow=False,
                   font=dict(family="DejaVu Serif", size=47, color="#222222"))
fig.add_annotation(xref="paper", yref="paper", x=-0.0925, y=0.512, xanchor="center", yanchor="middle",
                   textangle=-90, showarrow=False,
                   text="Displacement  [m/√<span style='text-decoration:overline'>Hz</span> ]",
                   font=dict(family="DejaVu Serif", size=52, color="#222222"))

legend_style = dict(bgcolor="rgba(0,0,0,0)", borderwidth=0, xanchor="left", yanchor="top",
                    itemwidth=30, traceorder="normal",
                    font=dict(family="DejaVu Sans", size=31, color="#262626"))
fig.update_layout(
    legend=dict(legend_style, x=0.1945, y=0.9936),
    legend2=dict(legend_style, x=0.4524, y=0.9936),
    legend3=dict(legend_style, x=0.7103, y=0.9936),
)

# title card
fig.add_shape(type="rect", xref="paper", yref="paper", x0=0.4610, x1=1.25, y0=0.46614, y1=0.74024,
              line=dict(color="black", width=4.5), fillcolor="white", layer="above")
fig.add_annotation(xref="paper", yref="paper", x=0.78388, y=0.600, xanchor="center", yanchor="middle",
                   text="Livingston noise budget<br>August 2017", showarrow=False, align="center",
                   font=dict(family="Lato", size=107, color="black"))

fig.write_html("out.html")
